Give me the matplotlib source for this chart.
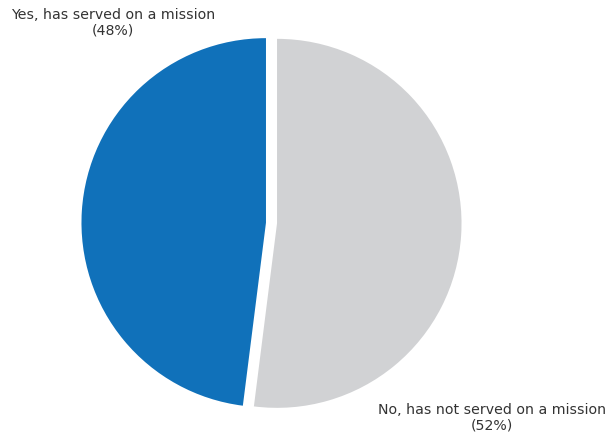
import matplotlib
matplotlib.use("Agg")
import matplotlib.pyplot as plt

labels = ["Yes, has served on a mission\n(48%)", "No, has not served on a mission\n(52%)"]
values = [48, 52]
colors = ["#1071BA", "#D1D2D4"]

W, H = 607, 436
fig = plt.figure(figsize=(W / 100, H / 100), dpi=100)
ax = fig.add_axes([0, 0, 1, 1])
ax.axis("off")

R = 184.5
cx, cy = 271.5, 223.0
ax.pie(values, colors=colors, startangle=90, counterclock=True,
       explode=[0.03, 0.03], radius=1.0, wedgeprops=dict(linewidth=0))
ax.set_xlim(-cx / R, (W - cx) / R)
ax.set_ylim(-(H - cy) / R, cy / R)
ax.set_aspect("equal")

fig.text(113 / W, 1 - 23 / H, labels[0], ha="center", va="center",
         fontsize=10.2, color="#333333", linespacing=1.1)
fig.text(492 / W, 1 - 418 / H, labels[1], ha="center", va="center",
         fontsize=10.2, color="#333333", linespacing=1.1)

fig.savefig("out.png", dpi=100)
